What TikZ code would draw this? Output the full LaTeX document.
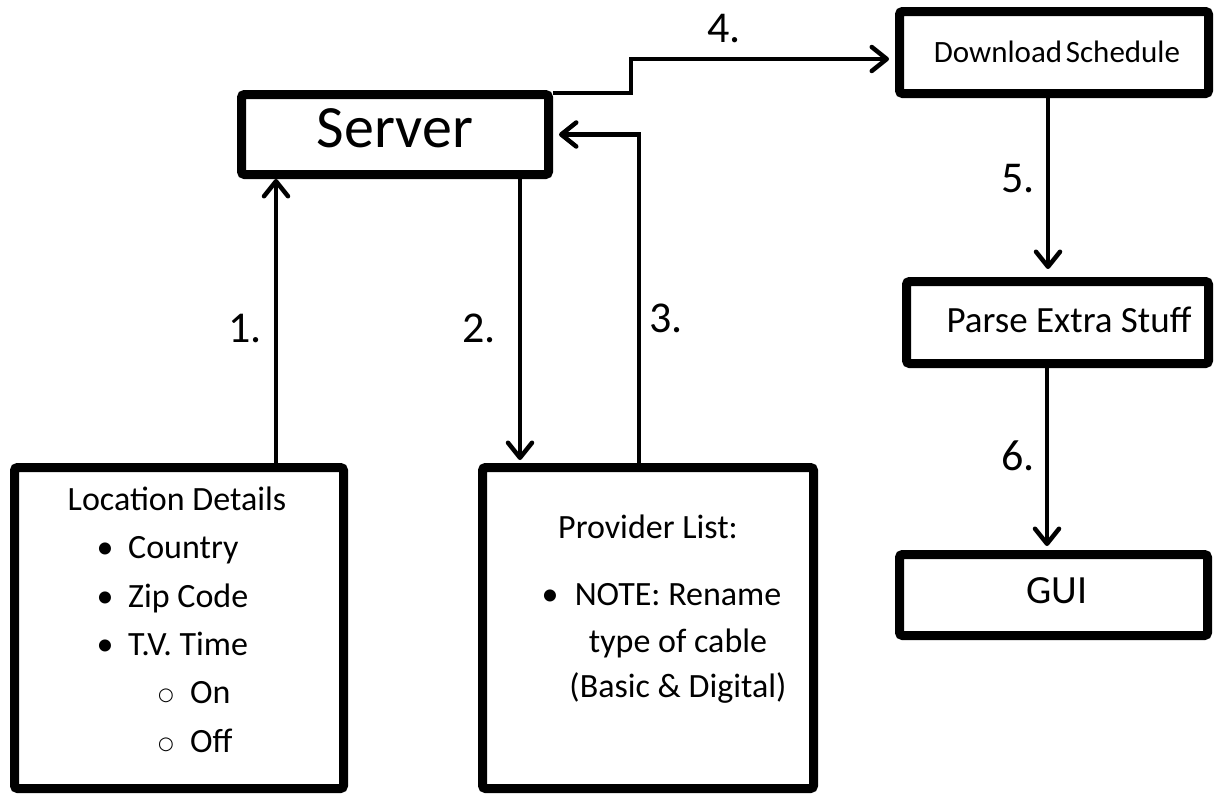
\documentclass[tikz,border=0pt]{standalone}
\usepackage{fontspec}
\setmainfont{Carlito}
\newfontfamily\symfam{DejaVu Sans}
\usetikzlibrary{arrows.meta}
\tikzset{
  box/.style={draw=black, line width=9pt, rounded corners=3pt, fill=white, inner sep=0pt},
  arr/.style={line width=4.5pt, -{Straight Barb[length=15pt,width=24pt,round]}},
  lbl/.style={inner sep=0pt, anchor=base, font=\fontsize{44}{50}\selectfont},
  itm/.style={inner sep=0pt, anchor=base west, font=\fontsize{34}{40}\selectfont},
  ctr/.style={inner sep=0pt, anchor=base, font=\fontsize{34}{40}\selectfont},
  sub/.style={inner sep=0pt, anchor=base, font=\symfam\fontsize{18}{21}\selectfont},
}
\begin{document}
\begin{tikzpicture}[x=1pt,y=-1pt]
\useasboundingbox[fill=white] (0,0) rectangle (1214,793);
% boxes
\node[box, minimum width=307pt, minimum height=80pt] (srv) at (395,134.5) {};
\node[box, minimum width=309pt, minimum height=82pt] (dl) at (1054,52.5) {};
\node[box, minimum width=302pt, minimum height=82pt] (ps) at (1057.5,322.5) {};
\node[box, minimum width=308pt, minimum height=81pt] (gui) at (1053.5,595) {};
\node[box, minimum width=329pt, minimum height=321pt] (loc) at (179,628) {};
\node[box, minimum width=331pt, minimum height=321pt] (prv) at (648,628) {};
% box texts
\node[inner sep=0pt, anchor=base, font=\fontsize{60}{70}\selectfont] (srvt) at (395,147) {Server};
\node[inner sep=0pt, anchor=base, font=\fontsize{31}{36}\selectfont] (dlt) at (1057,62) {Download\hspace{0.12em}Schedule};
\node[inner sep=0pt, anchor=base, font=\fontsize{37}{42}\selectfont] (pst) at (1069,332) {Parse Extra Stuff};
\node[inner sep=0pt, anchor=base, font=\fontsize{40}{46}\selectfont] (guit) at (1057,603) {GUI};
% location details
\node[ctr] (loct) at (177,510) {Location Details};
\node[ctr] (b1) at (105,558) {•};
\node[itm] (i1) at (128,558) {Country};
\node[ctr] (b2) at (105,607) {•};
\node[itm] (i2) at (128,607) {Zip Code};
\node[ctr] (b3) at (105,655) {•};
\node[itm] (i3) at (128,655) {T.V. Time};
\node[sub] (c1) at (166,700) {○};
\node[itm] (s1) at (190,703) {On};
\node[sub] (c2) at (166,749) {○};
\node[itm] (s2) at (190,752) {Off};
% provider list
\node[ctr] (pvt) at (648,538) {Provider List:};
\node[ctr] (pb) at (550,605) {•};
\node[ctr] (p1) at (678,605) {NOTE: Rename};
\node[ctr] (p2) at (678,652) {type of cable};
\node[ctr] (p3) at (678,697) {(Basic \& Digital)};
% connectors
\coordinate (a1s) at ([xshift=97pt]loc.north);
\draw[arr] (a1s) -- (a1s |- srv.south);
\coordinate (a2s) at ([xshift=125pt]srv.south);
\draw[arr, shorten >=3pt] (a2s) -- (a2s |- prv.north);
\coordinate (a3s) at ([xshift=-9pt]prv.north);
\draw[arr, shorten >=6pt] (a3s) |- (srv.east);
\coordinate (a4s) at ([yshift=-3pt]srv.north east);
\coordinate (a4e) at ([yshift=-6.5pt]dl.west);
\draw[arr, shorten >=6pt] (a4s) -- ++(78,0) |- (a4e);
\coordinate (a5s) at ([xshift=-6pt]dl.south);
\draw[arr, shorten >=8pt] (a5s) -- (a5s |- ps.north);
\coordinate (a6s) at ([xshift=-10.5pt]ps.south);
\draw[arr, shorten >=4pt] (a6s) -- (a6s |- gui.north);
% step labels
\node[lbl] (l1) at (245,342) {1.};
\node[lbl] (l2) at (479,342) {2.};
\node[lbl] (l3) at (666,332) {3.};
\node[lbl] (l4) at (724,42) {4.};
\node[lbl] (l5) at (1018,192) {5.};
\node[lbl] (l6) at (1018,470) {6.};
\end{tikzpicture}
\end{document}
